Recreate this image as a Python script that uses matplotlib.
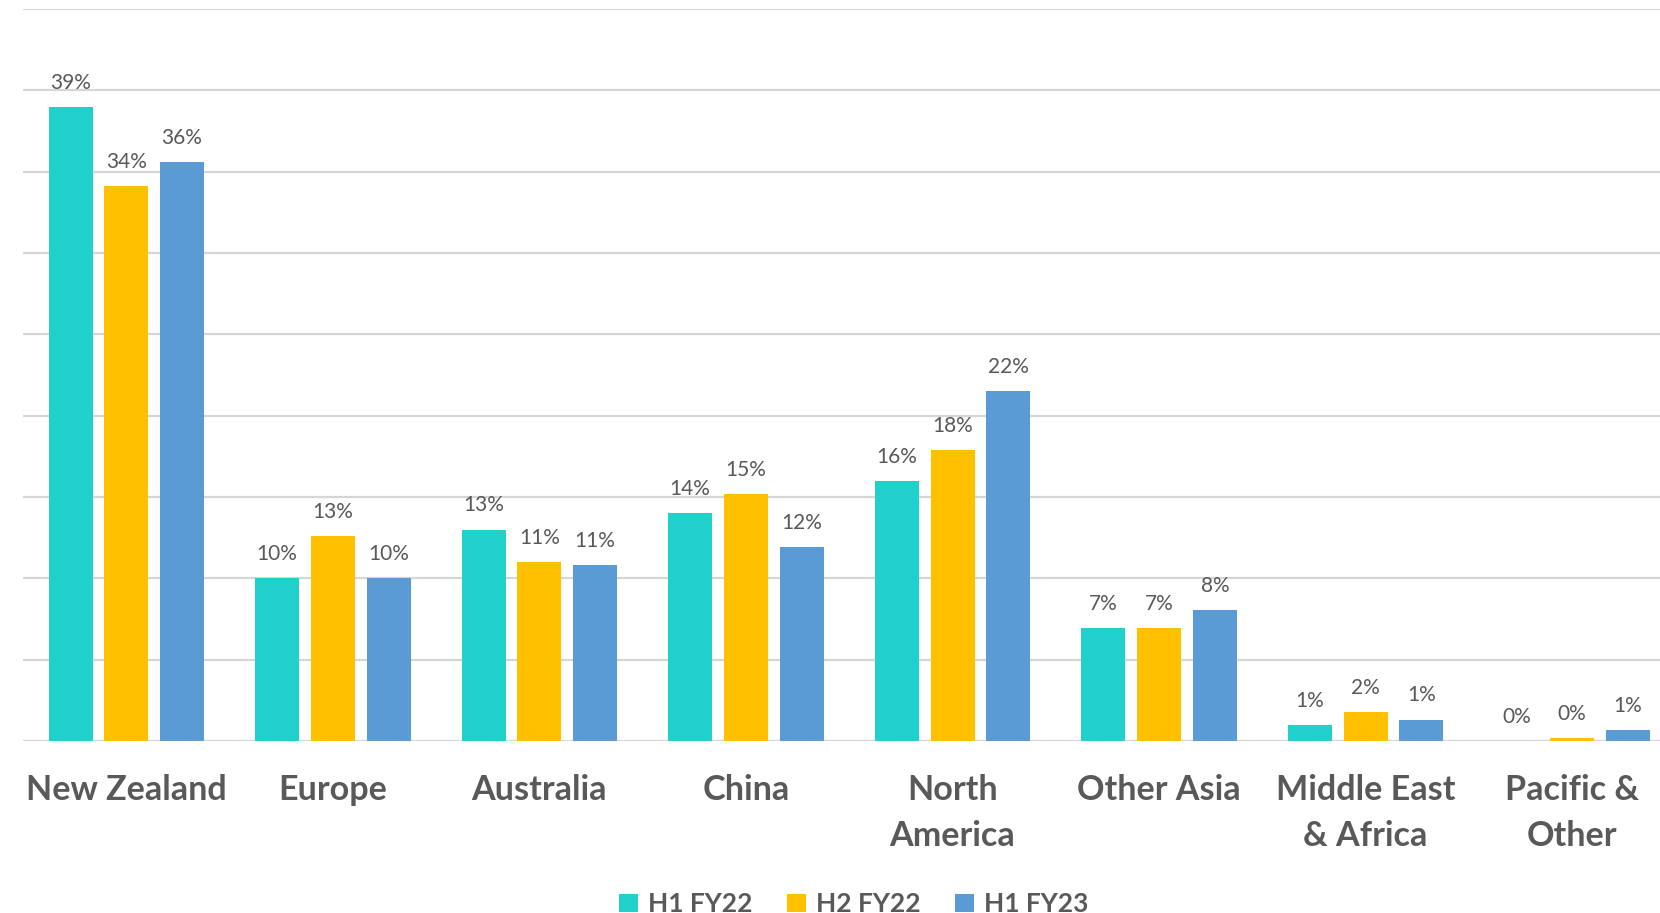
import matplotlib
matplotlib.use("Agg")
import matplotlib.pyplot as plt
from matplotlib.patches import Patch
import numpy as np

# Share of visitors by region, three half-year periods (%)
regions = ["New Zealand", "Europe", "Australia", "China", "North\nAmerica",
           "Other Asia", "Middle East\n& Africa", "Pacific &\nOther"]
series_names = ["H1 FY22", "H2 FY22", "H1 FY23"]
h1_fy22 = [39.0, 10.0, 13.0, 14.0, 16.0, 6.93, 0.97, 0.0]
h2_fy22 = [34.1, 12.6, 11.0, 15.2, 17.9, 6.93, 1.77, 0.18]
h1_fy23 = [35.6, 10.0, 10.8, 11.9, 21.5, 8.04, 1.32, 0.66]
colors = ["#1FD0CB", "#FFC000", "#5B9BD5"]

TEXT = "#595959"
FONT = "Lato"

fig = plt.figure(figsize=(16.6, 9.13), dpi=100)
ax = fig.add_axes([23 / 1660, 1 - 741 / 913, 1 - 23 / 1660, (741 - 9) / 913])

x = np.arange(len(regions))
width = 0.213
step = 0.27
all_series = [h1_fy22, h2_fy22, h1_fy23]
for k, (vals, col) in enumerate(zip(all_series, colors)):
    pos = x + (k - 1) * step
    ax.bar(pos, vals, width=width, color=col, zorder=3)
    for px, v in zip(pos, vals):
        ax.annotate(f"{v:.0f}%", xy=(px, v), xytext=(0, 13),
                    textcoords="offset points", ha="center", va="baseline",
                    fontsize=15, color=TEXT, family=FONT, zorder=4)

ax.set_xlim(-0.5, 7.425)
ax.set_ylim(0, 45)
ax.set_yticks(np.arange(0, 46, 5))
ax.yaxis.grid(True, color="#D6D6D6", linewidth=1.6, zorder=0)
ax.set_axisbelow(True)
ax.tick_params(left=False, labelleft=False, bottom=False, labelbottom=False)
for s in ax.spines.values():
    s.set_visible(False)

# Category labels, one line at a time
px_to_pt = 72 / 100
for i, name in enumerate(regions):
    for j, line in enumerate(name.split("\n")):
        ax.annotate(line, xy=(i, 0), xycoords=("data", "data"),
                    xytext=(0, -(59 + 46 * j) * px_to_pt),
                    textcoords="offset points", ha="center", va="baseline",
                    fontsize=24.6, fontweight="bold", color=TEXT, family=FONT,
                    annotation_clip=False)

handles = [Patch(facecolor=c, edgecolor="none") for c in colors]
fig.legend(handles, series_names, loc="center", ncol=3,
           bbox_to_anchor=(854 / 1660, 1 - 904 / 913), frameon=False,
           prop={"family": FONT, "weight": "bold", "size": 19},
           labelcolor=TEXT, handlelength=0.7, handleheight=0.7,
           handletextpad=0.4, columnspacing=1.3, borderpad=0)

fig.savefig("out.png", dpi=100)
